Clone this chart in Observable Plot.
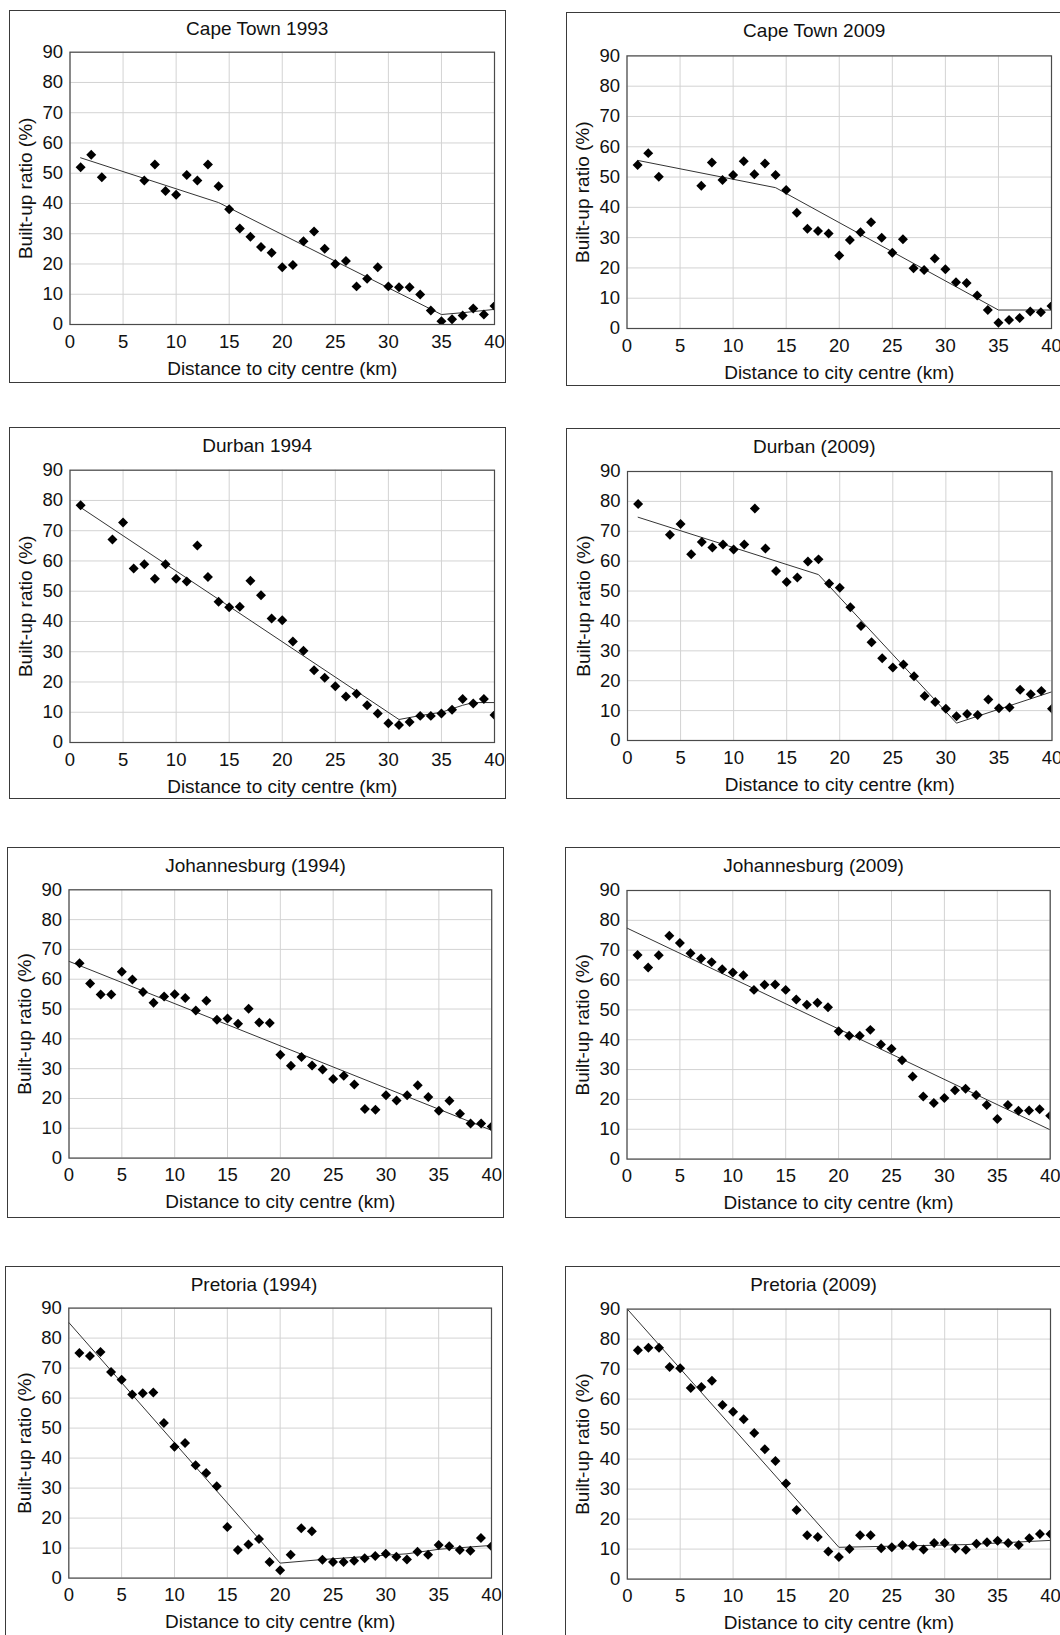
<!DOCTYPE html>
<html>
<head>
<meta charset="utf-8">
<script src="https://cdn.jsdelivr.net/npm/d3@7"></script>
<script src="https://cdn.jsdelivr.net/npm/@observablehq/plot@0.6"></script>
<style>
html, body { margin: 0; padding: 0; background: #fff; overflow: hidden; }
body { width: 1060px; height: 1635px; position: relative; font-family: "Liberation Sans", Arial, sans-serif; }
.panel { position: absolute; box-sizing: border-box; border: 1.5px solid #3a3a3a; background: #fff; }
.panel svg { position: absolute; left: -1.5px; top: -1.5px; }
.title { position: absolute; left: 0; right: 0; text-align: center; font-size: 19px; line-height: 22px; color: #111; white-space: nowrap; }
</style>
</head>
<body>
<script>
// ---------- data ----------
const distAll = [1,2,3,4,5,6,7,8,9,10,11,12,13,14,15,16,17,18,19,20,21,22,23,24,25,26,27,28,29,30,31,32,33,34,35,36,37,38,39,40];
const distCapeTown = [1,2,3,7,8,9,10,11,12,13,14,15,16,17,18,19,20,21,22,23,24,25,26,27,28,29,30,31,32,33,34,35,36,37,38,39,40];
const distDurban = [1,4,5,6,7,8,9,10,11,12,13,14,15,16,17,18,19,20,21,22,23,24,25,26,27,28,29,30,31,32,33,34,35,36,37,38,39,40];

const capeTown1993 = [52.0,56.1,48.7,47.6,52.9,44.1,42.9,49.4,47.6,52.9,45.7,38.1,31.7,29.0,25.6,23.7,18.9,19.7,27.5,30.7,25.0,20.0,21.0,12.6,15.1,18.9,12.6,12.3,12.3,9.9,4.6,1.1,1.7,3.0,5.3,3.3,6.1];
const capeTown1993FitX = [1,14,35,37,40];
const capeTown1993FitY = [55.1,40.3,3.3,3.9,5.0];

const capeTown2009 = [54.0,57.9,50.1,47.1,54.8,49.0,50.7,55.2,50.9,54.5,50.7,45.7,38.2,32.9,32.2,31.4,24.1,29.2,31.8,35.1,30.0,25.0,29.5,19.9,19.3,23.1,19.6,15.3,15.0,10.9,6.1,1.9,2.8,3.5,5.6,5.4,7.4];
const capeTown2009FitX = [1,14,35,40];
const capeTown2009FitY = [55.5,46.5,6.1,6.1];

const durban1994 = [78.4,67.1,72.7,57.5,58.9,54.1,58.9,54.1,53.2,65.1,54.7,46.5,44.7,44.9,53.5,48.7,41.0,40.4,33.4,30.3,23.9,21.4,18.6,15.2,16.1,12.3,9.6,6.4,5.8,6.8,8.8,8.8,9.6,10.8,14.4,12.9,14.4,9.1];
const durban1994FitX = [1,31,33,35,37,38,40];
const durban1994FitY = [77.7,7.6,8.9,10.0,12.3,13.2,13.2];

const durban2009 = [79.1,68.8,72.4,62.3,66.4,64.6,65.6,63.9,65.6,77.6,64.2,56.7,53.0,54.5,59.9,60.6,52.5,51.1,44.6,38.3,32.9,27.5,24.4,25.4,21.5,14.9,12.9,10.6,8.1,8.9,8.5,13.7,10.8,11.0,17.0,15.5,16.6,10.6];
const durban2009FitX = [1,18,31,40];
const durban2009FitY = [74.7,55.5,5.8,16.3];

const johannesburg1994 = [65.4,58.6,54.9,54.9,62.5,59.9,55.7,52.1,54.2,55.0,53.7,49.5,52.8,46.4,46.8,45.1,50.1,45.5,45.3,34.7,31.0,33.9,31.1,29.7,26.5,27.6,24.7,16.5,16.2,21.1,19.3,21.1,24.4,20.5,15.9,19.2,14.9,11.6,11.6,10.6];
const johannesburg1994FitX = [0,40];
const johannesburg1994FitY = [66.0,9.3];

const johannesburg2009 = [68.4,64.2,68.3,74.8,72.4,69.0,67.2,66.0,63.6,62.5,61.6,56.7,58.4,58.5,56.7,53.5,51.7,52.4,50.9,42.8,41.3,41.3,43.3,38.4,37.0,33.1,27.7,21.0,18.8,20.5,23.1,23.6,21.5,18.1,13.4,18.1,16.2,16.3,16.7,14.5];
const johannesburg2009FitX = [0,40];
const johannesburg2009FitY = [77.4,9.8];

const pretoria1994 = [75.0,74.0,75.4,68.7,66.1,61.2,61.6,61.9,51.7,43.8,45.0,37.6,35.0,30.6,17.0,9.4,11.2,13.0,5.4,2.6,7.8,16.6,15.6,6.1,5.4,5.4,5.8,6.6,7.4,8.1,7.1,6.2,8.8,7.8,11.0,10.6,9.4,9.1,13.4,10.6];
const pretoria1994FitX = [0,20,24,32,35,40];
const pretoria1994FitY = [85.2,5.0,6.2,8.1,9.6,10.9];

const pretoria2009 = [76.3,77.1,77.1,70.7,70.3,63.7,64.0,66.1,58.0,55.8,53.3,48.7,43.3,39.4,31.9,23.0,14.6,14.0,9.2,7.4,10.0,14.6,14.6,10.3,10.6,11.4,11.1,9.9,12.0,12.0,10.2,9.8,11.8,12.3,12.8,12.0,11.4,13.6,15.0,15.0];
const pretoria2009FitX = [0,20,32,40];
const pretoria2009FitY = [90.0,10.6,11.5,12.9];

const titles = ["Cape Town 1993","Cape Town 2009","Durban 1994","Durban (2009)","Johannesburg (1994)","Johannesburg (2009)","Pretoria (1994)","Pretoria (2009)"];
const xTicks = [0,5,10,15,20,25,30,35,40];
const yTicks = [0,10,20,30,40,50,60,70,80,90];
const xLabel = "Distance to city centre (km)";
const yLabel = "Built-up ratio (%)";

const series = [
  {dist: distCapeTown, vals: capeTown1993, fx: capeTown1993FitX, fy: capeTown1993FitY},
  {dist: distCapeTown, vals: capeTown2009, fx: capeTown2009FitX, fy: capeTown2009FitY},
  {dist: distDurban, vals: durban1994, fx: durban1994FitX, fy: durban1994FitY},
  {dist: distDurban, vals: durban2009, fx: durban2009FitX, fy: durban2009FitY},
  {dist: distAll, vals: johannesburg1994, fx: johannesburg1994FitX, fy: johannesburg1994FitY},
  {dist: distAll, vals: johannesburg2009, fx: johannesburg2009FitX, fy: johannesburg2009FitY},
  {dist: distAll, vals: pretoria1994, fx: pretoria1994FitX, fy: pretoria1994FitY},
  {dist: distAll, vals: pretoria2009, fx: pretoria2009FitX, fy: pretoria2009FitY}
];

// ---------- layout (page px): box [left, top, width, height], plot [left, top, right, bottom] ----------
const layout = [
  {box: [8.5, 10, 497.5, 372.5], plot: [70, 51.7, 494.5, 324]},
  {box: [565.5, 12.3, 497.5, 373.5], plot: [627, 55.7, 1051.5, 328.3]},
  {box: [8.5, 427.3, 497.5, 372], plot: [70, 470, 494.5, 742.3]},
  {box: [565.5, 427.7, 497.5, 371.6], plot: [627.5, 471.7, 1052, 740.7]},
  {box: [6.8, 846.7, 497.5, 371.6], plot: [69.3, 890, 492, 1158.3]},
  {box: [564.8, 846.7, 497.5, 371.6], plot: [627.3, 890.7, 1050.5, 1159.3]},
  {box: [5, 1265.7, 498, 372], plot: [68.3, 1308.3, 491, 1578.3]},
  {box: [564.5, 1265.7, 498, 372], plot: [627.3, 1309.3, 1050.5, 1579.3]}
];

series.forEach((s, i) => {
  const L = layout[i];
  const [bl, bt, bw, bh] = L.box;
  const [pl, pt, pr, pb] = L.plot;
  const pts = s.dist.map((d, j) => ({x: d, y: s.vals[j]}));
  const fit = s.fx.map((d, j) => ({x: d, y: s.fy[j]}));

  const panel = document.createElement("div");
  panel.className = "panel";
  panel.style.left = bl + "px";
  panel.style.top = bt + "px";
  panel.style.width = bw + "px";
  panel.style.height = bh + "px";

  const svg = Plot.plot({
    width: bw,
    height: bh,
    marginLeft: pl - bl,
    marginTop: pt - bt,
    marginRight: bl + bw - pr,
    marginBottom: bt + bh - pb,
    style: {background: "transparent", fontFamily: "'Liberation Sans', Arial, sans-serif", fontSize: "18px", color: "#111", overflow: "visible", maxWidth: "none"},
    x: {domain: [0, 40]},
    y: {domain: [0, 90]},
    marks: [
      Plot.gridX(xTicks, {stroke: "#d3d3d3", strokeOpacity: 1}),
      Plot.gridY(yTicks, {stroke: "#d3d3d3", strokeOpacity: 1}),
      Plot.axisX(xTicks, {tickSize: 0, tickPadding: 10, fontSize: 18.5, label: null, fill: "#111"}),
      Plot.axisY(yTicks, {tickSize: 0, tickPadding: 7, fontSize: 18.5, label: null, fill: "#111"}),
      Plot.line(fit, {x: "x", y: "y", stroke: "#333", strokeWidth: 1, clip: true}),
      Plot.dot(pts, {x: "x", y: "y", symbol: "diamond2", r: 4.5, fill: "#000", stroke: "none", clip: true}),
      Plot.frame({stroke: "#4a4a4a", strokeWidth: 1.2}),
      Plot.text([xLabel], {text: d => d, frameAnchor: "bottom", dy: 44, textAnchor: "middle", lineAnchor: "middle", fontSize: 19, fill: "#111"}),
      Plot.text([yLabel], {text: d => d, frameAnchor: "left", dx: -44, rotate: -90, textAnchor: "middle", lineAnchor: "middle", fontSize: 19, fill: "#111"})
    ]
  });
  panel.appendChild(svg);

  const t = document.createElement("div");
  t.className = "title";
  t.textContent = titles[i];
  t.style.top = (19.5 - 11 - 1.5) + "px";
  panel.appendChild(t);

  document.body.appendChild(panel);
});
</script>
</body>
</html>
